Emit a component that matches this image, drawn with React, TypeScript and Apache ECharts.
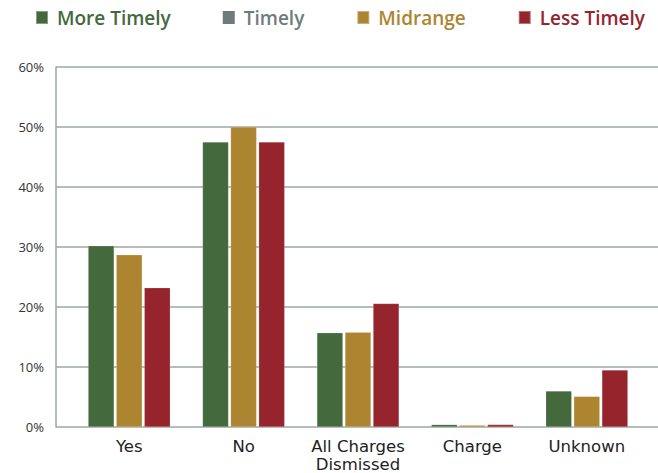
import React, { useEffect, useRef } from "react";
import * as echarts from "echarts";

const categories = ["Yes", "No", "All Charges\nDismissed", "Charge", "Unknown"];
const seriesNames = ["More Timely", "Timely", "Midrange", "Less Timely"];
const moreTimely = [30.2, 47.5, 15.7, 0.4, 6.0];
const timely: number[] = [];
const midrange = [28.7, 50.0, 15.8, 0.3, 5.1];
const lessTimely = [23.2, 47.5, 20.6, 0.4, 9.5];
const colors = ["#43693c", "#6f7b7b", "#ad8530", "#96242d"];

const FONT = "'Open Sans', 'Noto Sans', sans-serif";
const AXIS_FONT = "'DejaVu Sans', Verdana, sans-serif";

export default function App() {
  const ref = useRef<HTMLDivElement>(null);

  useEffect(() => {
    if (!ref.current) return;
    const chart = echarts.init(ref.current, null, { renderer: "svg" });
    const barCommon = {
      type: "bar" as const,
      xAxisIndex: 1,
      yAxisIndex: 1,
      barWidth: 26,
      barGap: "8%",
      itemStyle: { borderColor: "rgba(255,255,255,0.35)", borderWidth: 0.5 },
    };
    chart.setOption({
      animation: false,
      color: colors,
      legend: {
        top: 8,
        left: 35,
        padding: 0,
        itemWidth: 12,
        itemHeight: 13,
        itemGap: 52,
        icon: "rect",
        data: seriesNames.map((n, i) => ({
          name: n,
          textStyle: { color: colors[i] },
        })),
        textStyle: {
          fontFamily: FONT,
          fontSize: 19,
          fontWeight: 600,
          padding: [0, 0, 0, 4],
        },
      },
      grid: [
        { left: 56, right: 0, top: 67, bottom: 46 },
        { left: 72, right: 14, top: 67, bottom: 46 },
      ],
      xAxis: [
        {
          gridIndex: 0,
          type: "category",
          data: categories,
          show: false,
        },
        {
          gridIndex: 1,
          type: "category",
          data: categories,
          axisLine: { show: false },
          axisTick: { show: false },
          axisLabel: {
            fontFamily: AXIS_FONT,
            fontSize: 16.5,
            color: "#222",
            margin: 10,
            lineHeight: 18,
            interval: 0,
          },
        },
      ],
      yAxis: [
        {
          gridIndex: 0,
          type: "value",
          min: 0,
          max: 60,
          interval: 10,
          axisLine: { show: true, lineStyle: { color: "#9ea6a4", width: 1.5 } },
          axisTick: { show: false },
          axisLabel: {
            formatter: "{value}%",
            fontFamily: FONT,
            fontSize: 13,
            color: "#333",
            margin: 12,
          },
          splitLine: { lineStyle: { color: "#9ea6a4", width: 1.5 } },
        },
        {
          gridIndex: 1,
          type: "value",
          min: 0,
          max: 60,
          interval: 10,
          show: false,
          splitLine: { show: false },
        },
      ],
      series: [
        {
          ...barCommon,
          name: seriesNames[0],
          data: moreTimely,
          itemStyle: { ...barCommon.itemStyle, color: colors[0] },
        },
        {
          type: "bar",
          name: seriesNames[1],
          xAxisIndex: 0,
          yAxisIndex: 0,
          data: timely,
          itemStyle: { color: colors[1] },
        },
        {
          ...barCommon,
          name: seriesNames[2],
          data: midrange,
          itemStyle: { ...barCommon.itemStyle, color: colors[2] },
        },
        {
          ...barCommon,
          name: seriesNames[3],
          data: lessTimely,
          itemStyle: { ...barCommon.itemStyle, color: colors[3] },
        },
      ],
    });
    return () => chart.dispose();
  }, []);

  return (
    <div
      ref={ref}
      style={{ width: 658, height: 473, position: "absolute", left: 0, top: 0, background: "#fff" }}
    />
  );
}
